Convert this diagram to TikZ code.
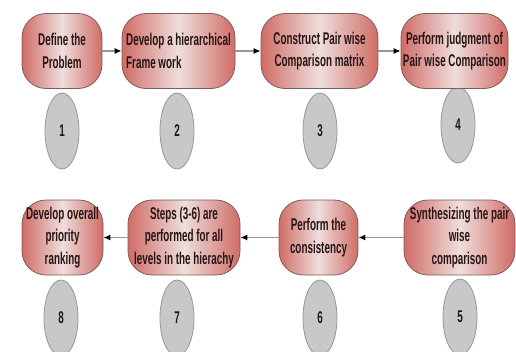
\documentclass[tikz,border=0pt]{standalone}
\usepackage{fontspec}
\usetikzlibrary{shapes.geometric,arrows.meta}
\newfontfamily\boxfont[FakeStretch=0.58]{Liberation Sans}
\definecolor{boxred}{RGB}{208,108,102}
\definecolor{boxmid}{RGB}{238,222,220}
\definecolor{boxedge}{RGB}{125,92,92}
\definecolor{circfill}{RGB}{200,200,200}
\definecolor{circedge}{RGB}{150,150,150}
\definecolor{txt}{RGB}{40,22,22}
\definecolor{linegray}{RGB}{150,150,150}
\tikzset{
  stepbox/.style={rectangle, rounded corners=24pt, draw=boxedge, line width=0.8pt,
    left color=boxred, right color=boxred, middle color=boxmid,
    inner sep=0pt, minimum height=75pt, align=center, text=txt,
    font=\boxfont\bfseries\fontsize{17}{22.5}\selectfont},
  numcirc/.style={ellipse, draw=circedge, line width=0.8pt, fill=circfill,
    minimum width=34pt, minimum height=76pt, inner sep=0pt, text=txt,
    font=\boxfont\bfseries\fontsize{17}{18}\selectfont},
  flow/.style={draw=linegray, line width=1.2pt, -{Latex[length=7pt,width=6pt,color=black]}}
}
\begin{document}
\begin{tikzpicture}[x=1pt,y=-1pt]
\useasboundingbox (0,0) rectangle (516,351);
\clip (0,0) rectangle (516,351);
% circles first (behind boxes)
\node[numcirc] (c1) at (62,131) {1};
\node[numcirc] (c2) at (177,131) {2};
\node[numcirc] (c3) at (320,131) {3};
\node[numcirc] (c4) at (458,125) {4};
\node[numcirc] (c8) at (61,318) {8};
\node[numcirc] (c7) at (177,318) {7};
\node[numcirc] (c6) at (320,318) {6};
\node[numcirc] (c5) at (460,317) {5};
% top row
\node[stepbox, minimum width=80pt] (b1) at (62,51) {Define the\\Problem};
\node[stepbox, minimum width=113pt, align=left] (b2) at (178.5,51) {Develop a hierarchical\\Frame work};
\node[stepbox, minimum width=117pt] (b3) at (319.5,51) {Construct Pair wise\\Comparison matrix};
\node[stepbox, minimum width=107pt] (b4) at (454.5,51) {Perform judgment of\\Pair wise Comparison};
% bottom row
\node[stepbox, minimum width=81pt] (b8) at (62.5,237.5) {Develop overall\\priority\\ranking};
\node[stepbox, minimum width=112pt] (b7) at (184,237.5) {Steps (3-6) are\\performed for all\\levels in the hierachy};
\node[stepbox, minimum width=79pt] (b6) at (318.5,237.5) {Perform the\\consistency};
\node[stepbox, minimum width=111pt] (b5) at (459.5,237.5) {Synthesizing the pair\\wise\\comparison};
% connectors
\draw[flow] (b1) -- (b2);
\draw[flow] (b2) -- (b3);
\draw[flow] (b3) -- (b4);
\draw[flow] (b5) -- (b6);
\draw[flow] (b6) -- (b7);
\draw[flow] (b7) -- (b8);
\end{tikzpicture}
\end{document}
